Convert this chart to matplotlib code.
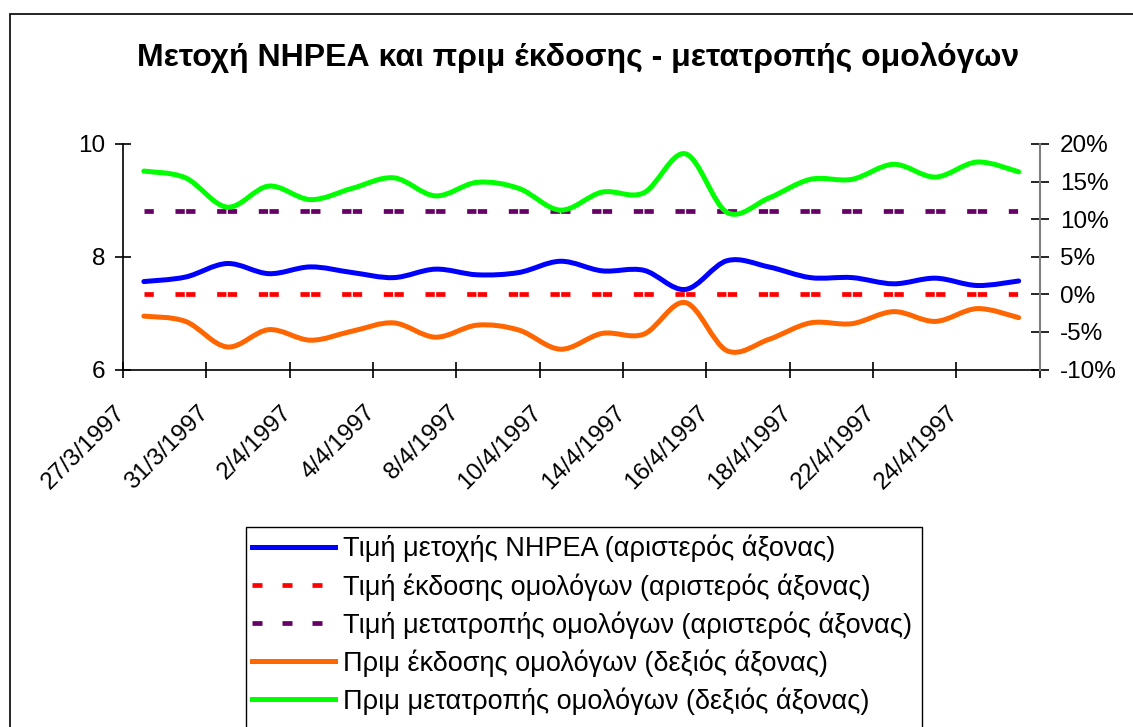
import matplotlib
matplotlib.use("Agg")
import matplotlib.pyplot as plt
import numpy as np
from matplotlib.path import Path
from matplotlib.patches import PathPatch, Rectangle
from matplotlib.lines import Line2D
from matplotlib.transforms import ScaledTranslation

# Data
dates = ["27/3/1997", "28/3/1997", "31/3/1997", "1/4/1997", "2/4/1997", "3/4/1997",
         "4/4/1997", "7/4/1997", "8/4/1997", "9/4/1997", "10/4/1997", "11/4/1997",
         "14/4/1997", "15/4/1997", "16/4/1997", "17/4/1997", "18/4/1997", "21/4/1997",
         "22/4/1997", "23/4/1997", "24/4/1997", "25/4/1997"]
share_price = [7.56, 7.64, 7.88, 7.70, 7.82, 7.72, 7.63, 7.78, 7.68, 7.72, 7.92,
               7.75, 7.76, 7.42, 7.93, 7.82, 7.63, 7.63, 7.52, 7.62, 7.49, 7.57]
issue_price = [7.34] * 22
conversion_price = [8.81] * 22
issue_premium = [-2.9, -3.6, -7.0, -4.7, -6.1, -4.9, -3.8, -5.7, -4.1, -4.75, -7.3,
                 -5.2, -5.3, -1.1, -7.5, -6.0, -3.8, -3.9, -2.3, -3.6, -1.9, -3.1]
conversion_premium = [16.4, 15.5, 11.6, 14.4, 12.6, 14.1, 15.5, 13.1, 14.9, 14.1, 11.2,
                      13.6, 13.5, 18.7, 10.9, 12.8, 15.3, 15.3, 17.3, 15.6, 17.6, 16.3]

labels = ["Τιμή μετοχής ΝΗΡΕΑ (αριστερός άξονας)",
          "Τιμή έκδοσης ομολόγων (αριστερός άξονας)",
          "Τιμή μετατροπής ομολόγων (αριστερός άξονας)",
          "Πριμ έκδοσης ομολόγων (δεξιός άξονας)",
          "Πριμ μετατροπής ομολόγων (δεξιός άξονας)"]
colors = ["#0000FF", "#FF0000", "#660066", "#FF6600", "#00FF00"]

plt.rcParams["font.family"] = ["Liberation Sans", "DejaVu Sans"]
plt.rcParams["font.size"] = 17.5
plt.rcParams["lines.scale_dashes"] = False


def smooth_path(xs, ys):
    # Excel-style smoothed line: cubic bezier through every data point
    pts = np.column_stack([xs, ys]).astype(float)
    n = len(pts)
    verts = [pts[0]]
    codes = [Path.MOVETO]
    for i in range(n - 1):
        p0 = pts[i - 1] if i > 0 else pts[i]
        p1 = pts[i]
        p2 = pts[i + 1]
        p3 = pts[i + 2] if i + 2 < n else pts[i + 1]
        verts += [p1 + (p2 - p0) / 6.0, p2 - (p3 - p1) / 6.0, p2]
        codes += [Path.CURVE4] * 3
    return Path(verts, codes)


fig = plt.figure(figsize=(11.33, 7.27), dpi=100)
ax = fig.add_axes([123 / 1133, 1 - 369.5 / 727, (1039.5 - 123) / 1133, (369.5 - 144) / 727])
ax2 = ax.twinx()

x = np.arange(len(dates))

# left axis series
ax.add_patch(PathPatch(smooth_path(x, share_price), fill=False, edgecolor=colors[0],
                       lw=3.6, capstyle="round", joinstyle="round", zorder=3))
dash = (0, (6.7, 15.6, 6.7, 1.0))
ax.plot(x, issue_price, color=colors[1], lw=3.4, linestyle=dash, dash_capstyle="butt", zorder=2)
ax.plot(x, conversion_price, color=colors[2], lw=3.4, linestyle=dash, dash_capstyle="butt", zorder=2)

# right axis series
ax2.add_patch(PathPatch(smooth_path(x, issue_premium), fill=False, edgecolor=colors[3],
                        lw=3.6, capstyle="round", joinstyle="round"))
ax2.add_patch(PathPatch(smooth_path(x, conversion_premium), fill=False, edgecolor=colors[4],
                        lw=3.6, capstyle="round", joinstyle="round"))

ax.set_xlim(-0.5, len(dates) - 0.5)
ax.set_ylim(6, 10)
ax.set_yticks([6, 8, 10])
ax2.set_ylim(-10, 20)
ax2.set_yticks(np.arange(-10, 21, 5))
ax2.set_yticklabels([f"{v}%" for v in range(-10, 21, 5)])

ax.spines["top"].set_visible(False)
ax2.spines["top"].set_visible(False)
ax2.spines["left"].set_visible(False)
ax2.spines["bottom"].set_visible(False)
ax.spines["right"].set_visible(False)
ax2.spines["right"].set_color("#808080")
ax2.spines["right"].set_linewidth(1.5)
for s in ["left", "bottom"]:
    ax.spines[s].set_linewidth(1.2)

ax.tick_params(axis="y", direction="inout", length=12, width=1.2, pad=7, labelsize=17.5)
ax2.tick_params(axis="y", direction="inout", length=13, width=1.2, pad=8, labelsize=17.5)

# category boundaries carry the tick marks, every other category carries a label
ax.set_xticks(np.arange(-0.5, len(dates), 2))
ax.set_xticklabels([])
ax.tick_params(axis="x", which="major", direction="inout", length=12, width=1.2)
ax.set_xticks(x[::2], minor=True)
ax.set_xticklabels(dates[::2], minor=True, rotation=45, ha="right", va="top")
ax.tick_params(axis="x", which="minor", length=0, pad=23, labelsize=17.5)
offset = ScaledTranslation(-14 / 100, 0, fig.dpi_scale_trans)
for lab in ax.get_xticklabels(minor=True):
    lab.set_transform(lab.get_transform() + offset)

fig.text(578.5 / 1133, 1 - 58 / 727, "Μετοχή ΝΗΡΕΑ και πριμ έκδοσης - μετατροπής ομολόγων",
         ha="center", va="center", fontsize=23, fontweight="bold")

# legend
handles = [Line2D([], [], color=colors[0], lw=3.6),
           Line2D([], [], color=colors[1], lw=3.4, linestyle=(0, (7.2, 14.4)), dash_capstyle="butt"),
           Line2D([], [], color=colors[2], lw=3.4, linestyle=(0, (7.2, 14.4)), dash_capstyle="butt"),
           Line2D([], [], color=colors[3], lw=3.6),
           Line2D([], [], color=colors[4], lw=3.6)]
fig.legend(handles, labels, loc="upper left", bbox_to_anchor=(252 / 1133, 1 - 535 / 727),
           frameon=False, fontsize=19.5, handlelength=3.07, handletextpad=0.3,
           labelspacing=0.39, borderpad=0, borderaxespad=0)
fig.patches.append(Rectangle((246 / 1133, -0.05), (922 - 246) / 1133, 0.05 + (727 - 527) / 727,
                             transform=fig.transFigure, fill=False, edgecolor="black", lw=1))

# chart area border
fig.patches.append(Rectangle((10 / 1133, -0.05), 1.1, 0.05 + (727 - 14) / 727,
                             transform=fig.transFigure, fill=False, edgecolor="black", lw=1.2))

fig.savefig("out.png", dpi=100)
